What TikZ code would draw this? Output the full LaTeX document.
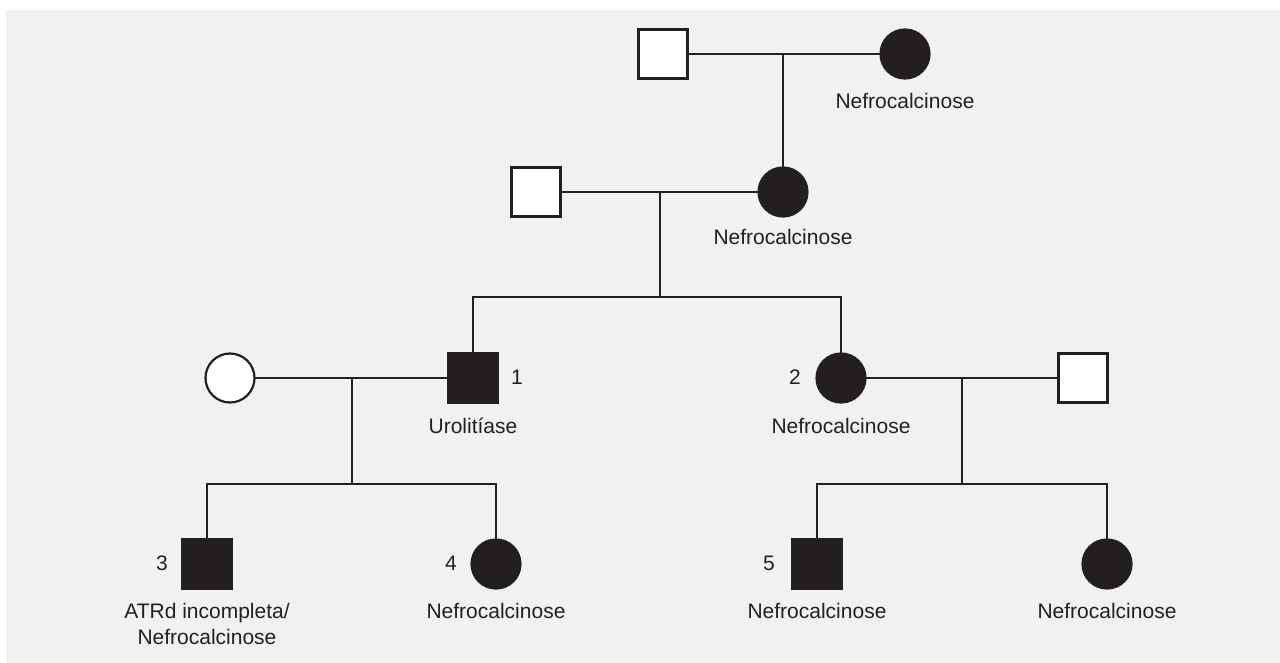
\documentclass[tikz,border=0pt]{standalone}
\usepackage{fontspec}
\setmainfont{Liberation Sans}
\definecolor{bgc}{HTML}{F0F1F3}
\definecolor{ink}{HTML}{231F20}
\begin{document}
\begin{tikzpicture}[x=1pt,y=-1pt,
  line width=2.2pt,
  every node/.style={inner sep=0pt, outer sep=0pt},
  male/.style={draw=ink, rectangle, minimum size=49pt, fill=white},
  female/.style={draw=ink, circle, minimum size=49pt, fill=white},
  aff/.style={fill=ink},
  lbl/.style={anchor=base, text=ink, font=\fontsize{21}{25}\selectfont},
  link/.style={draw=ink, line width=2.2pt}]
\useasboundingbox (0,0) rectangle (1280,663);
\fill[bgc] (6,10) rectangle (1280,663);

% generation I
\node[male] (g1m) at (663,54) {};
\node[female,aff] (g1f) at (905,54) {};
\node[lbl] (g1fl) at (905,109) {Nefrocalcinose};
\coordinate (m1) at (783,54);

% generation II
\node[male] (g2m) at (536,192) {};
\node[female,aff] (g2f) at (783,192) {};
\node[lbl] (g2fl) at (783,245) {Nefrocalcinose};
\coordinate (m2) at (660,192);
\coordinate (s2) at (660,297);

% generation III
\node[female] (g3w) at (230,378) {};
\node[male,aff] (p1) at (473,378) {};
\node[lbl] (p1n) at (517,384) {1};
\node[lbl] (p1l) at (473,433) {Urolitíase};
\coordinate (m3) at (352,378);
\coordinate (s3) at (352,484);

\node[female,aff] (p2) at (841,378) {};
\node[lbl] (p2n) at (795,384) {2};
\node[lbl] (p2l) at (841,433) {Nefrocalcinose};
\node[male] (g3h) at (1083,378) {};
\coordinate (m4) at (962,378);
\coordinate (s4) at (962,484);

% generation IV
\node[male,aff] (p3) at (207,564) {};
\node[lbl] (p3n) at (162,570) {3};
\node[lbl] (p3l) at (207,618) {ATRd incompleta/};
\node[lbl] (p3l2) at (207,644) {Nefrocalcinose};

\node[female,aff] (p4) at (496,564) {};
\node[lbl] (p4n) at (451,570) {4};
\node[lbl] (p4l) at (496,618) {Nefrocalcinose};

\node[male,aff] (p5) at (817,564) {};
\node[lbl] (p5n) at (769,570) {5};
\node[lbl] (p5l) at (817,618) {Nefrocalcinose};

\node[female,aff] (p6) at (1107,564) {};
\node[lbl] (p6l) at (1107,618) {Nefrocalcinose};

% connectors
\begin{scope}[on background layer/.style={}]
\draw[link] (g1m) -- (g1f);
\draw[link] (m1) -- (g2f);
\draw[link] (g2m) -- (g2f);
\draw[link] (m2) -- (s2);
\draw[link] (p1) |- (s2) -| (p2);
\draw[link] (g3w) -- (p1);
\draw[link] (m3) -- (s3);
\draw[link] (p3) |- (s3) -| (p4);
\draw[link] (p2) -- (g3h);
\draw[link] (m4) -- (s4);
\draw[link] (p5) |- (s4) -| (p6);
\end{scope}
\end{tikzpicture}
\end{document}
